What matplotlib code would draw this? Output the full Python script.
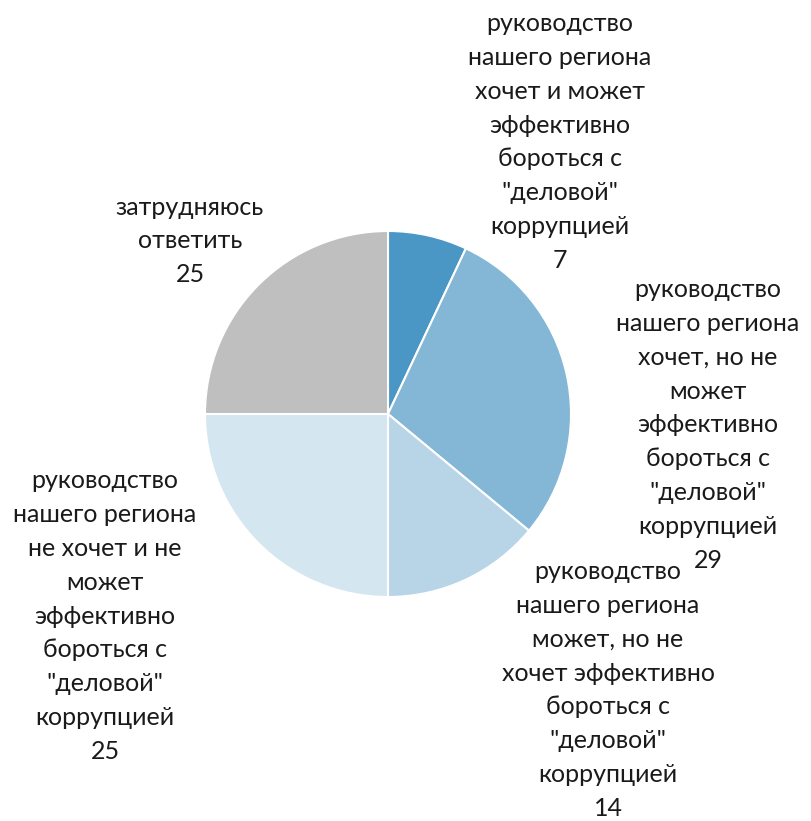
import matplotlib.pyplot as plt

# доли ответов, по часовой стрелке от 12 часов
labels = [
    'руководство\nнашего региона\nхочет и может\nэффективно\nбороться с\n"деловой"\nкоррупцией',
    'руководство\nнашего региона\nхочет, но не\nможет\nэффективно\nбороться с\n"деловой"\nкоррупцией',
    'руководство\nнашего региона\nможет, но не\nхочет эффективно\nбороться с\n"деловой"\nкоррупцией',
    'руководство\nнашего региона\nне хочет и не\nможет\nэффективно\nбороться с\n"деловой"\nкоррупцией',
    'затрудняюсь\nответить',
]
values = [7, 29, 14, 25, 25]
colors = ['#4a96c4', '#84b6d6', '#b8d5e8', '#d4e6f0', '#bfbfbf']

# центры подписей в пикселях (x, y сверху)
label_px = [(560, 142), (708, 425), (608, 690), (105, 616), (190, 241)]

W, H = 811, 821
cx, cy, R = 388, 414, 183

fig = plt.figure(figsize=(W / 100, H / 100), dpi=100)
ax = fig.add_axes([0, 0, 1, 1])

ax.pie(values, colors=colors, startangle=90, counterclock=False, radius=1,
       wedgeprops=dict(edgecolor='white', linewidth=1.5))

ax.set_aspect('auto')
ax.set_xlim(-cx / R, (W - cx) / R)
ax.set_ylim(-(H - cy) / R, cy / R)
ax.axis('off')

for lab, v, (px, py) in zip(labels, values, label_px):
    ax.text((px - cx) / R, (cy - py) / R, lab + '\n' + str(v),
            ha='center', va='center', fontsize=18, family='Lato',
            linespacing=1.57, color='#1a1a1a')

fig.savefig('out.png', dpi=100)
